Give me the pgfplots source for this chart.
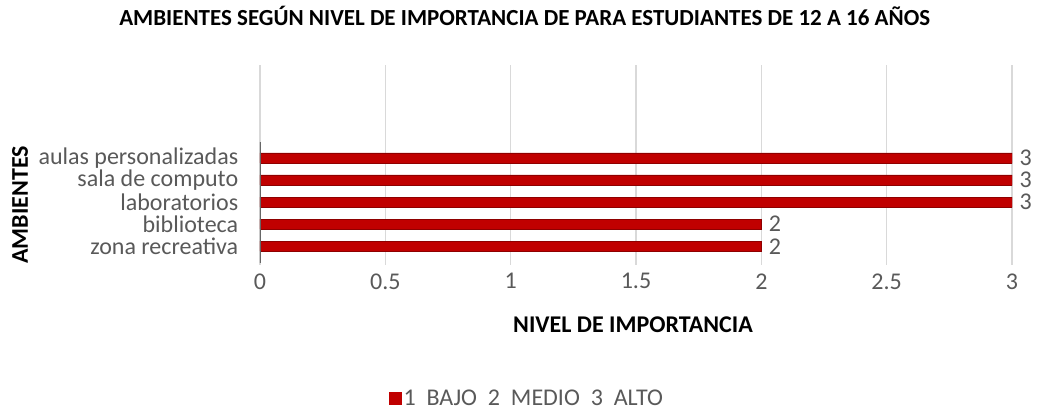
\documentclass[border=0pt]{standalone}
\usepackage{fontspec}
\setmainfont{Carlito}
\usepackage{pgfplots}
\pgfplotsset{compat=1.18}
\definecolor{barred}{HTML}{C00000}
\definecolor{bardark}{HTML}{8E0000}
\definecolor{txtgray}{HTML}{595959}
\definecolor{gridgray}{HTML}{D9D9D9}
\begin{document}
\begin{tikzpicture}[x=1pt,y=1pt]
\useasboundingbox (0,0) rectangle (1039,409);
\begin{axis}[
  at={(260pt,144pt)}, anchor=south west,
  scale only axis, width=752pt, height=200pt,
  xmin=0, xmax=3, ymin=-0.85, ymax=8.2,
  xbar, bar width=10pt,
  /pgf/number format/assume math mode=true,
  axis line style={draw=none},
  tick style={draw=none},
  xtick={0,0.5,...,3},
  xticklabels={0,0.5,1,1.5,2,2.5,3},
  ytick={0,1,2,3,4},
  yticklabels={zona recreativa,biblioteca,laboratorios,sala de computo,aulas personalizadas},
  xmajorgrids, grid style={gridgray, line width=1.5pt},
  ticklabel style={font=\fontsize{24}{26}\selectfont, text=txtgray},
  yticklabel style={xshift=-14pt},
  xticklabel style={yshift=-5pt},
  nodes near coords,
  nodes near coords style={font=\fontsize{24}{26}\selectfont, text=txtgray, xshift=4pt},
  title={AMBIENTES SEGÚN NIVEL DE IMPORTANCIA DE PARA ESTUDIANTES DE 12 A 16 AÑOS},
  title style={at={(rel axis cs:0.352,1.215)}, anchor=center, font=\fontsize{23}{25}\selectfont\bfseries},
  xlabel={NIVEL DE IMPORTANCIA},
  xlabel style={at={(rel axis cs:0.496,-0.30)}, anchor=center, font=\fontsize{24}{26}\selectfont\bfseries},
  ylabel={AMBIENTES},
  ylabel style={at={(rel axis cs:-0.319,0.30)}, anchor=center, font=\fontsize{24}{26}\selectfont\bfseries},
  legend style={at={(rel axis cs:0.355,-0.665)}, anchor=center, draw=none, fill=none,
    font=\fontsize{24}{26}\selectfont, text=txtgray},
  legend image code/.code={\fill[barred] (0pt,-6pt) rectangle (12pt,6pt);},
]
\addplot[fill=barred, draw=bardark, line width=0.6pt] coordinates {
  (2,0) (2,1) (3,2) (3,3) (3,4)
};
\addlegendentry{1\ \ BAJO\ \ 2\ \ MEDIO\ \ 3\ \ ALTO}
\draw[gray!80!black, line width=3pt] (axis cs:0,-0.75) -- (axis cs:0,4.7);
\end{axis}
\end{tikzpicture}
\end{document}
